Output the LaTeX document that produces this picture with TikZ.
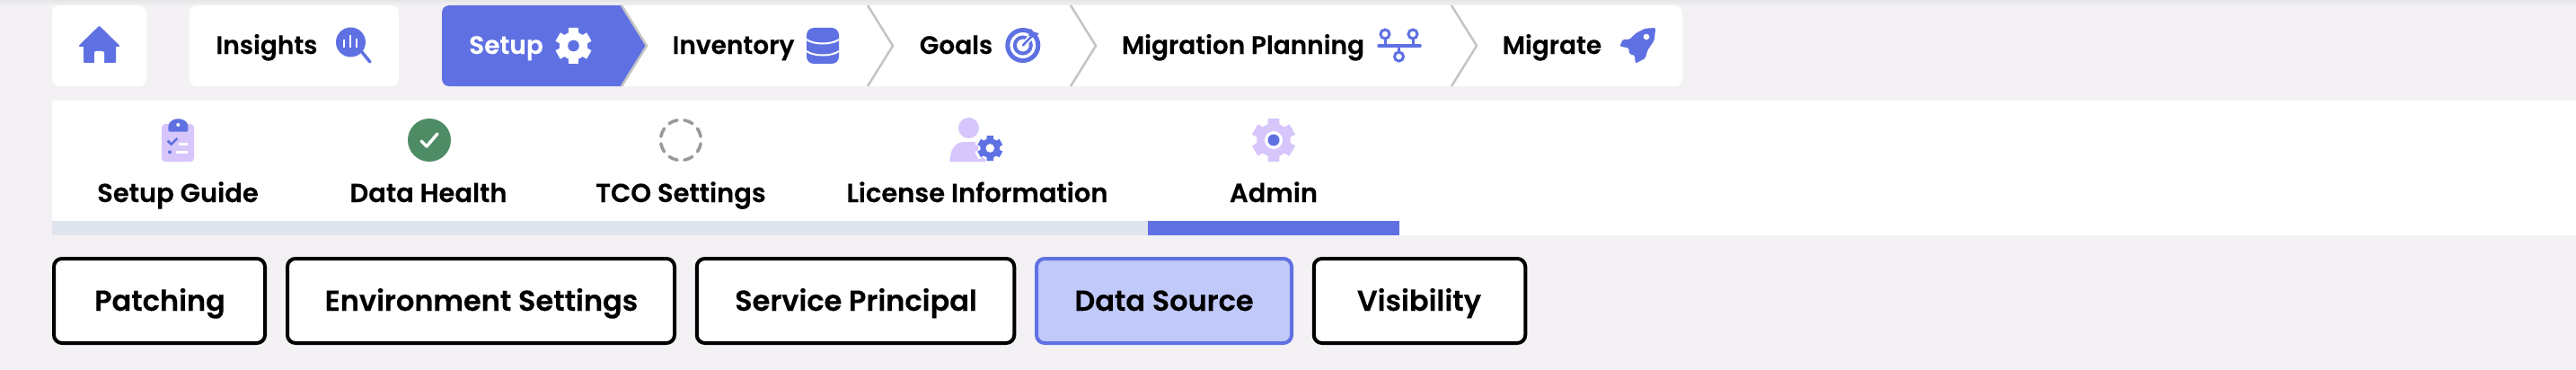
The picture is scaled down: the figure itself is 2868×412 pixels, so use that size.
\documentclass[tikz,border=0pt]{standalone}
\usepackage{fontspec}
\setmainfont{Poppins SemiBold}[FakeBold=0.2]
\usepackage{tikz}

\definecolor{pagebg}{HTML}{F3F1F4}
\definecolor{topbg}{HTML}{E6E5E8}
\definecolor{navblue}{HTML}{5F71E2}
\definecolor{lilac}{HTML}{D6C6FB}
\definecolor{healthgreen}{HTML}{4E8C66}
\definecolor{barclr}{HTML}{E0E4EC}
\definecolor{pickedclr}{HTML}{C1C9F9}
\definecolor{chevclr}{HTML}{C4C4C4}

\tikzset{
    txt/.style={inner sep=0pt,anchor=base,font=\fontsize{28}{30}\selectfont},
    tabtxt/.style={txt,font=\fontsize{29}{30}\selectfont},
    btntxt/.style={txt,font=\fontsize{32}{34}\selectfont},
    btn/.style={draw=black,fill=white,line width=4pt,rounded corners=9pt,minimum height=94pt,inner sep=0pt},
    gearicon/.pic={
        \fill circle [radius=.78];
        \foreach \a in {0,60,...,300}
            \fill [rotate=\a,rounded corners=.08] (-.27,.55) rectangle (.27,1);
    }
}

\begin{document}
\begin{tikzpicture}[x=1pt,y=-1pt]
    \useasboundingbox (0,0) rectangle (2868,412);
    \fill [pagebg] (0,0) rectangle (2868,412);
    \fill [top color=topbg,bottom color=pagebg] (0,0) rectangle (2868,6);

    % top row
    \fill [white,rounded corners=8] (58,6) rectangle (163,96);
    \fill [white,rounded corners=8] (211,6) rectangle (444,96);
    \fill [white,rounded corners=8] (660,6) rectangle (1873,96);
    \fill [navblue] (692,6) -- (720,51) -- (692,96) [rounded corners=8] -- (492,96) -- (492,6) [sharp corners] -- cycle;
    \foreach \x in {692,966,1192,1616}
        \draw [chevclr,line width=2.5pt] (\x,6) -- (\x+28,51) -- (\x,96);

    \fill [navblue,draw=navblue,line width=2pt,line join=round] (110.5,30) -- (89,51) -- (94,51) -- (94,69) -- (128,69) -- (128,51) -- (132,51) -- cycle;
    \fill [white,rounded corners=2] (105,57) rectangle (116,72);

    \node [txt] (insights) at (297,60) {Insights};
    \fill [navblue] (390.5,47) circle [radius=16.5];
    \draw [navblue,line width=3.5pt,line cap=round] (403,58) -- (412,69);
    \draw [white,line width=2.5pt] (383,44) -- (383,53) (390,39) -- (390,53) (397,43) -- (397,53);

    \node [txt,white] (setup) at (563.5,60) {Setup};
    \pic [white,scale=20] at (638.5,51) {gearicon};
    \fill [navblue] (638.5,51) circle [radius=6.3];

    \node [txt] (inventory) at (816.5,60) {Inventory};
    \fill [navblue,rounded corners=8] (898,31) rectangle (934,71);
    \draw [white,line width=2pt] (898,44) .. controls (906,50) and (926,50) .. (934,44);
    \draw [white,line width=2pt] (898,57) .. controls (906,63) and (926,63) .. (934,57);

    \node [txt] (goals) at (1064.5,60) {Goals};
    \draw [navblue,line width=5pt] (1138.8,50.5) circle [radius=17];
    \draw [navblue,line width=4pt] (1138.8,50.5) circle [radius=9];
    \draw [white,line width=6pt] (1141,48) -- (1156,33);
    \draw [navblue,line width=2.5pt,line cap=round] (1138.8,50.5) -- (1150,39);
    \fill [navblue] (1147.3,31.7) -- (1150,35) -- (1156.7,37.3) -- (1151.7,42.7) -- (1145,39.3) -- cycle;

    \node [txt] (planning) at (1384,60) {Migration Planning};
    \draw [navblue,line width=3.5pt,line cap=round] (1535,51) -- (1581,51);
    \draw [navblue,line width=3pt] (1542,44) -- (1542,51) (1573,44) -- (1573,51) (1557.5,51) -- (1557.5,57);
    \draw [navblue,line width=3pt] (1542,38) circle [radius=5] (1573,38) circle [radius=5] (1557.5,63) circle [radius=5];

    \node [txt] (migrate) at (1728,60) {Migrate};
    \fill [navblue,rounded corners=1.5] (1843.3,31) -- (1831.7,31.7) -- (1821.7,36.7) -- (1814,44) -- (1806.7,44) -- (1803.3,51.7) -- (1813.3,53.3) -- (1814,60) -- (1820,61.7) -- (1820.7,70.7) -- (1831.7,65) -- (1834.3,56) -- (1841.7,45) -- cycle;
    \fill [white] (1833,41) circle [radius=3.3];

    % second row
    \fill [white] (58,112) rectangle (2868,262);
    \fill [barclr] (58,246) rectangle (1278,262);
    \fill [navblue] (1278,246) rectangle (1558,262);

    \node [tabtxt] (guide) at (198,225) {Setup Guide};
    \node [tabtxt] (health) at (477,225) {Data Health};
    \node [tabtxt] (tco) at (758,225) {TCO Settings};
    \node [tabtxt] (license) at (1088,225) {License Information};
    \node [tabtxt] (admin) at (1418,225) {Admin};

    \fill [lilac,rounded corners=4] (180,138) rectangle (216,180);
    \fill [navblue,rounded corners=1.5] (187.4,146.7) -- (187.4,141) .. controls (188,136) and (193,132.3) .. (198.3,132.3) .. controls (204,132.3) and (209,136) .. (209.3,141) -- (209.3,146.7) -- cycle;
    \fill [white] (198.3,139) circle [radius=2];
    \draw [navblue,line width=2.5pt] (186.7,156.7) -- (190.7,160.7) -- (197.3,154);
    \fill [navblue] (189,169.3) circle [radius=2];
    \draw [white,line width=3pt] (199.3,160) -- (209.3,160) (196,169.3) -- (209.3,169.3);

    \fill [healthgreen] (478,156) circle [radius=24];
    \draw [white,line width=3.5pt,line cap=round,line join=round] (469,157) -- (475,163) -- (487,149);

    \foreach \a in {0,45,...,315}
        \draw [gray!80,line width=3.5pt,line cap=round] ({758+22.5*cos(\a+10)},{156+22.5*sin(\a+10)}) arc [start angle=\a+10,end angle=\a+35,radius=22.5];

    \fill [lilac] (1078.5,142.5) circle [radius=11.5];
    \fill [lilac] (1057.5,180) .. controls (1057.5,166) and (1064,158) .. (1074,158) -- (1086,158) .. controls (1094,158) and (1098,170) .. (1098,180) -- cycle;
    \pic [white,scale=17] at (1102.3,165) {gearicon};
    \pic [navblue,scale=14] at (1102.3,165) {gearicon};
    \fill [white] (1102.3,165) circle [radius=4.8];

    \pic [lilac,scale=24] at (1418,156) {gearicon};
    \fill [white] (1418,156) circle [radius=10];
    \fill [navblue] (1418,156) circle [radius=6.5];

    % third row
    \node [btn,minimum width=235pt] (patching) at (177.5,335) {};
    \node [btn,minimum width=431pt] (envset) at (535.5,335) {};
    \node [btn,minimum width=353.5pt] (principal) at (952.5,335) {};
    \node [btn,draw=navblue,fill=pickedclr,minimum width=284pt] (datasrc) at (1296,335) {};
    \node [btn,minimum width=235.5pt] (visibility) at (1580.5,335) {};

    \node [btntxt] at (178,346) {Patching};
    \node [btntxt] at (536,346) {Environment Settings};
    \node [btntxt] at (953,346) {Service Principal};
    \node [btntxt] at (1296,346) {Data Source};
    \node [btntxt] at (1580,346) {Visibility};
\end{tikzpicture}
\end{document}
